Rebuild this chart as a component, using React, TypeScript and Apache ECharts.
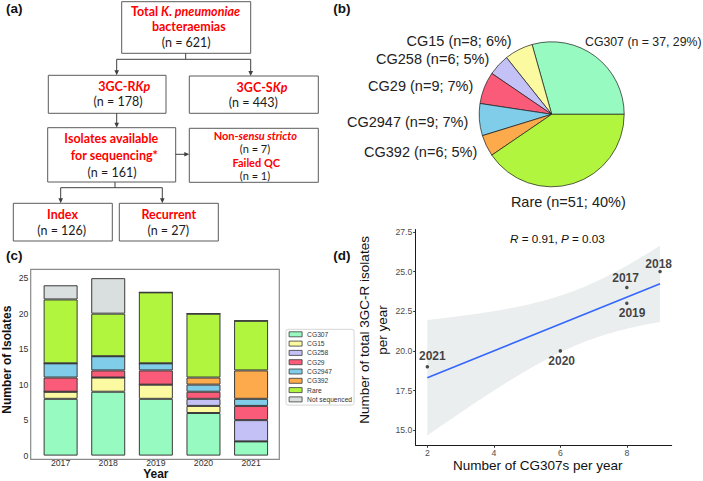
import React, { useEffect, useRef } from 'react';
import * as echarts from 'echarts';

// ---------- Panel (a): flowchart counts ----------
const flowTotal = 621;
const flowResistant = 178;
const flowSusceptible = 443;
const flowSequenced = 161;
const flowNonSensuStricto = 7;
const flowFailedQC = 1;
const flowIndex = 126;
const flowRecurrent = 27;

// ---------- Panel (b): pie ----------
const pieGroups = ['CG307', 'CG15', 'CG258', 'CG29', 'CG2947', 'CG392', 'Rare'];
const pieCounts = [37, 8, 6, 9, 9, 6, 51];

// ---------- Panel (c): stacked bars ----------
const years = ['2017', '2018', '2019', '2020', '2021'];
const barGroups = ['CG307', 'CG15', 'CG258', 'CG29', 'CG2947', 'CG392', 'Rare', 'Not sequenced'];
const cg307Counts = [8, 9, 8, 6, 2];
const cg15Counts = [1, 2, 2, 1, 0];
const cg258Counts = [0, 0, 0, 1, 3];
const cg29Counts = [2, 1, 2, 1, 2];
const cg2947Counts = [2, 2, 1, 1, 1];
const cg392Counts = [0, 0, 0, 1, 4];
const rareCounts = [9, 6, 10, 9, 7];
const notSequencedCounts = [2, 5, 0, 0, 0];
const barYTicks = [0, 5, 10, 15, 20, 25];

// ---------- Panel (d): scatter ----------
const scatterYears = ['2017', '2018', '2019', '2020', '2021'];
const cg307PerYear = [8, 9, 8, 6, 2];
const totalPerYear = [24, 25, 23, 20, 19];
const scatterXTicks = [2, 4, 6, 8];
const scatterYTicks = [15, 17.5, 20, 22.5, 25, 27.5];
const corrR = '0.91';
const corrP = '0.03';

// ---------- styles ----------
const FONT = 'Liberation Sans';
const FLOW_FONT = 'Lato';
const groupColor: Record<string, string> = {
  CG307: '#97fbc1',
  CG15: '#fbfaa0',
  CG258: '#c3c1f5',
  CG29: '#fa5b78',
  CG2947: '#80cdea',
  CG392: '#fcaa4c',
  Rare: '#b2f53e',
  'Not sequenced': '#d9dfde',
};
const pieLabelAnchors: [number, number, string][] = [
  [585, 41.7, 'left'],
  [511.7, 40.7, 'right'],
  [489.3, 59.3, 'right'],
  [473.3, 86, 'right'],
  [468.3, 122, 'right'],
  [477.3, 151.7, 'right'],
  [568.3, 201.7, 'center'],
];
const scatterLabelOffsets: Record<string, [number, number]> = {
  '2017': [-1.2, -9.8],
  '2018': [-1.4, -7.3],
  '2019': [5.3, 10],
  '2020': [1.3, 10],
  '2021': [5, -10.8],
};

// ---------- regression (geom_smooth(method = "lm")) ----------
const T_975_DF3 = 3.182446;
function fitStats(xs: number[], ys: number[]) {
  const n = xs.length;
  const mx = xs.reduce((a, b) => a + b, 0) / n;
  const my = ys.reduce((a, b) => a + b, 0) / n;
  let sxx = 0, sxy = 0;
  for (let i = 0; i < n; i++) {
    sxx += (xs[i] - mx) ** 2;
    sxy += (xs[i] - mx) * (ys[i] - my);
  }
  const slope = sxy / sxx;
  const icpt = my - slope * mx;
  let sse = 0;
  for (let i = 0; i < n; i++) sse += (ys[i] - (icpt + slope * xs[i])) ** 2;
  const s = Math.sqrt(sse / (n - 2));
  return { n, mx, sxx, slope, icpt, s };
}
const fit = fitStats(cg307PerYear, totalPerYear);
const xLo = Math.min(...cg307PerYear);
const xHi = Math.max(...cg307PerYear);
const bandPts: number[][] = [];
for (let i = 0; i < 80; i++) {
  const x = xLo + ((xHi - xLo) * i) / 79;
  const yh = fit.icpt + fit.slope * x;
  const se = fit.s * Math.sqrt(1 / fit.n + (x - fit.mx) ** 2 / fit.sxx);
  bandPts.push([x, yh - T_975_DF3 * se, yh + T_975_DF3 * se]);
}

// ---------- flowchart graphic helpers ----------
const BOX_STROKE = '#5a5a5a';
const LINE_STROKE = '#3f3f3f';
function makeRich(size: number, lh: number) {
  return {
    r: { fill: '#ff0000', fontWeight: 'bold', fontSize: size, lineHeight: lh, fontFamily: FLOW_FONT },
    ri: { fill: '#ff0000', fontWeight: 'bold', fontStyle: 'italic', fontSize: size, lineHeight: lh, fontFamily: FLOW_FONT },
    n: { fill: '#1a1a1a', fontSize: size, lineHeight: lh, fontFamily: FLOW_FONT },
  };
}
const flowRich = makeRich(12.5, 13);
const flowRichTight = makeRich(11, 11);
function box(x1: number, y1: number, x2: number, y2: number) {
  return {
    type: 'rect',
    shape: { x: x1, y: y1, width: x2 - x1, height: y2 - y1 },
    style: { fill: '#fff', stroke: BOX_STROKE, lineWidth: 1 },
  };
}
function ftext(x: number, y: number, text: string, rich: any = flowRich) {
  return {
    type: 'text',
    x,
    y,
    style: { text, rich, align: 'center', verticalAlign: 'middle' },
  };
}
function seg(x1: number, y1: number, x2: number, y2: number) {
  return {
    type: 'line',
    shape: { x1, y1, x2, y2 },
    style: { stroke: LINE_STROKE, lineWidth: 1 },
  };
}
function arrowDown(x: number, y1: number, y2: number) {
  return [
    seg(x, y1, x, y2 - 4),
    { type: 'polygon', shape: { points: [[x - 2.3, y2 - 5], [x + 2.3, y2 - 5], [x, y2]] }, style: { fill: LINE_STROKE } },
  ];
}
function arrowRight(x1: number, x2: number, y: number) {
  return [
    seg(x1, y, x2 - 4, y),
    { type: 'polygon', shape: { points: [[x2 - 5, y - 2.3], [x2 - 5, y + 2.3], [x2, y]] }, style: { fill: LINE_STROKE } },
  ];
}
function panelLabel(x: number, y: number, t: string) {
  return {
    type: 'text',
    x,
    y,
    style: { text: t, fontFamily: FONT, fontWeight: 'bold', fontSize: 13.5, fill: '#111', align: 'left', verticalAlign: 'middle' },
  };
}

function buildOption() {
  const flow: any[] = [
    box(121.7, 1.7, 250.7, 53.3),
    box(48.3, 75.3, 166, 113.3),
    box(189.3, 76, 318.3, 113.3),
    box(47.7, 127.7, 175.7, 182),
    box(189.3, 128.3, 318.3, 182.3),
    box(13.3, 203.3, 112.3, 241),
    box(119.3, 203.3, 218.3, 241),
    ftext(185.5, 11.7, '{r|Total }{ri|K. pneumoniae}'),
    ftext(188.8, 26.7, '{r|bacteraemias}'),
    ftext(186.2, 42.7, `{n|(n = ${flowTotal})}`),
    ftext(124.2, 86.7, '{r|3GC-R}{ri|Kp}'),
    ftext(118, 101.7, `{n|(n = ${flowResistant})}`),
    ftext(262, 87.3, '{r|3GC-S}{ri|Kp}'),
    ftext(253.3, 102.7, `{n|(n = ${flowSusceptible})}`),
    ftext(111.3, 138.3, '{r|Isolates available}'),
    ftext(114.3, 155, '{r|for sequencing*}'),
    ftext(112, 172.3, `{n|(n = ${flowSequenced})}`),
    ftext(255.3, 135.3, '{r|Non-}{ri|sensu stricto}', flowRichTight),
    ftext(255, 148.7, `{n|(n = ${flowNonSensuStricto})}`, flowRichTight),
    ftext(256.3, 162.1, '{r|Failed QC}', flowRichTight),
    ftext(255, 175.5, `{n|(n = ${flowFailedQC})}`, flowRichTight),
    ftext(62.5, 214, '{r|Index}'),
    ftext(61.7, 230, `{n|(n = ${flowIndex})}`),
    ftext(168.8, 214, '{r|Recurrent}'),
    ftext(168.3, 230, `{n|(n = ${flowRecurrent})}`),
    seg(185.7, 53.3, 185.7, 59.3),
    seg(116.7, 59.3, 250.7, 59.3),
    ...arrowDown(116.7, 59.3, 75.3),
    ...arrowDown(250.7, 59.3, 76),
    ...arrowDown(116.7, 113.3, 127.7),
    ...arrowRight(175.7, 189.3, 154.3),
    seg(115, 182, 115, 187.7),
    seg(60.7, 187.7, 162.3, 187.7),
    ...arrowDown(60.7, 187.7, 203.3),
    ...arrowDown(162.3, 187.7, 203.3),
  ];

  const graphic: any[] = [
    ...flow,
    panelLabel(6, 8.3, '(a)'),
    panelLabel(333.3, 8.3, '(b)'),
    panelLabel(6, 255, '(c)'),
    panelLabel(333.3, 255, '(d)'),
    {
      type: 'rect',
      z: 0,
      shape: { x: 30.7, y: 269.3, width: 248.6, height: 190 },
      style: { fill: 'none', stroke: '#8a8a8a', lineWidth: 1.2 },
    },
    {
      type: 'text',
      x: 510,
      y: 238.7,
      style: {
        text: `{i|R} = ${corrR}, {i|P} = ${corrP}`,
        fontFamily: FONT,
        fontSize: 11.7,
        fill: '#111',
        align: 'left',
        verticalAlign: 'middle',
        rich: { i: { fontStyle: 'italic', fontFamily: FONT, fontSize: 11.7, fill: '#111' } },
      },
    },
  ];

  const barData = [
    cg307Counts, cg15Counts, cg258Counts, cg29Counts, cg2947Counts, cg392Counts, rareCounts, notSequencedCounts,
  ];
  const pieTotal = pieCounts.reduce((a, b) => a + b, 0);

  const series: any[] = [
    {
      type: 'pie',
      center: [551.7, 114.3],
      radius: 72.5,
      startAngle: 0,
      clockwise: false,
      silent: true,
      avoidLabelOverlap: false,
      itemStyle: { borderColor: '#1a1a1a', borderWidth: 0.7 },
      data: pieGroups.map((g, i) => ({
        name: g,
        value: pieCounts[i],
        itemStyle: { color: groupColor[g] },
        label: i === 0 ? { fontSize: 12.3 } : {},
      })),
      label: {
        show: true,
        position: 'outside',
        fontFamily: FONT,
        fontSize: 14.5,
        color: '#222',
        formatter: (p: any) => {
          const pct = Math.round((p.value / pieTotal) * 100);
          return p.dataIndex === 0 ? `${p.name} (n = ${p.value}, ${pct}%)` : `${p.name} (n=${p.value}; ${pct}%)`;
        },
      },
      labelLine: { show: false },
      labelLayout: (params: any) => {
        const a = pieLabelAnchors[params.dataIndex];
        return { x: a[0], y: a[1], align: a[2], verticalAlign: 'middle' };
      },
    },
    ...barGroups.map((g, i) => ({
      type: 'bar',
      name: g,
      stack: 'total',
      xAxisIndex: 0,
      yAxisIndex: 0,
      barWidth: 34,
      silent: true,
      itemStyle: { color: groupColor[g], borderColor: '#3a3a3a', borderWidth: 1 },
      data: barData[i],
    })),
    {
      type: 'custom',
      xAxisIndex: 1,
      yAxisIndex: 1,
      silent: true,
      z: 1,
      data: [[bandPts[0][0], bandPts[0][1]]],
      renderItem: (_params: any, api: any) => {
        const upper = bandPts.map((b) => api.coord([b[0], b[2]]));
        const lower = bandPts.slice().reverse().map((b) => api.coord([b[0], b[1]]));
        return { type: 'polygon', shape: { points: [...upper, ...lower] }, style: { fill: '#ebeeee' } };
      },
    },
    {
      type: 'line',
      xAxisIndex: 1,
      yAxisIndex: 1,
      silent: true,
      symbol: 'none',
      z: 3,
      lineStyle: { color: '#3366ff', width: 1.5 },
      data: [
        [xLo, fit.icpt + fit.slope * xLo],
        [xHi, fit.icpt + fit.slope * xHi],
      ],
    },
    {
      type: 'scatter',
      xAxisIndex: 1,
      yAxisIndex: 1,
      silent: true,
      z: 4,
      symbolSize: 3.5,
      itemStyle: { color: '#222' },
      label: {
        show: true,
        position: 'inside',
        formatter: '{b}',
        fontFamily: FONT,
        fontWeight: 'bold',
        fontSize: 12,
        color: '#111',
      },
      data: scatterYears.map((y, i) => ({
        name: y,
        value: [cg307PerYear[i], totalPerYear[i]],
        label: { offset: scatterLabelOffsets[y] },
      })),
    },
  ];

  return {
    animation: false,
    backgroundColor: '#fff',
    graphic,
    legend: {
      data: barGroups,
      orient: 'vertical',
      left: 286,
      top: 329.3,
      icon: 'rect',
      itemWidth: 13,
      itemHeight: 5,
      itemGap: 2.3,
      selectedMode: false,
      padding: [1.5, 2, 2.2, 2.7],
      backgroundColor: '#fff',
      borderColor: '#d6d6d6',
      borderWidth: 1,
      borderRadius: 2,
      itemStyle: { borderColor: '#3a3a3a', borderWidth: 0.8 },
      textStyle: { fontFamily: FONT, fontSize: 6.7, lineHeight: 7, color: '#333' },
    },
    grid: [
      { left: 35.8, top: 269.3, width: 239.1, height: 190, containLabel: false },
      { left: 415.7, top: 229.5, width: 256, height: 215.8, containLabel: false },
    ],
    xAxis: [
      {
        type: 'category',
        gridIndex: 0,
        data: years,
        axisLine: { show: false },
        axisTick: { show: false },
        axisLabel: { fontFamily: FONT, fontSize: 8.7, color: '#333', margin: 2.5 },
        name: 'Year',
        nameLocation: 'middle',
        nameGap: 9.4,
        nameTextStyle: { fontFamily: FONT, fontWeight: 'bold', fontSize: 12, color: '#111' },
      },
      {
        type: 'value',
        gridIndex: 1,
        min: 1.65,
        max: 9.35,
        splitLine: { show: false },
        axisLine: { show: true, lineStyle: { color: '#1a1a1a', width: 1 } },
        axisTick: { show: true, customValues: scatterXTicks, length: 2.5, lineStyle: { color: '#333' } },
        axisLabel: { customValues: scatterXTicks, fontFamily: FONT, fontSize: 8.7, color: '#4d4d4d', margin: 3 },
        name: 'Number of CG307s per year',
        nameLocation: 'middle',
        nameGap: 11.5,
        nameTextStyle: { fontFamily: FONT, fontSize: 13.5, color: '#111', padding: [0, 12, 0, 0] },
      },
    ],
    yAxis: [
      {
        type: 'value',
        gridIndex: 0,
        min: 0,
        max: 26.25,
        splitLine: { show: false },
        axisLine: { show: false },
        axisTick: { show: false },
        axisLabel: { customValues: barYTicks, fontFamily: FONT, fontSize: 8.7, color: '#333', margin: 8.5 },
        name: 'Number of Isolates',
        nameLocation: 'middle',
        nameRotate: 90,
        nameGap: 23.8,
        nameTextStyle: { fontFamily: FONT, fontWeight: 'bold', fontSize: 12, color: '#111', padding: [0, 0, 0, 5.6] },
      },
      {
        type: 'value',
        gridIndex: 1,
        min: 14.05,
        max: 27.65,
        splitLine: { show: false },
        axisLine: { show: true, lineStyle: { color: '#1a1a1a', width: 1 } },
        axisTick: { show: true, customValues: scatterYTicks, length: 2.5, lineStyle: { color: '#333' } },
        axisLabel: {
          customValues: scatterYTicks,
          formatter: (v: number) => v.toFixed(1),
          fontFamily: FONT,
          fontSize: 8.7,
          color: '#4d4d4d',
          margin: 3.4,
        },
        name: 'Number of total 3GC-R isolates\nper year',
        nameLocation: 'middle',
        nameRotate: 90,
        nameGap: 18.4,
        nameTextStyle: { fontFamily: FONT, fontSize: 13.5, lineHeight: 18, color: '#111', padding: [0, 0, 0, 15] },
      },
    ],
    series,
  };
}

export default function App() {
  const ref = useRef<HTMLDivElement>(null);
  useEffect(() => {
    if (!ref.current) return;
    const chart = echarts.init(ref.current, null, { renderer: 'svg' });
    chart.setOption(buildOption() as any);
    return () => chart.dispose();
  }, []);
  return (
    <div
      ref={ref}
      style={{ position: 'absolute', left: 0, top: 0, width: 703, height: 481, background: '#fff' }}
    />
  );
}
